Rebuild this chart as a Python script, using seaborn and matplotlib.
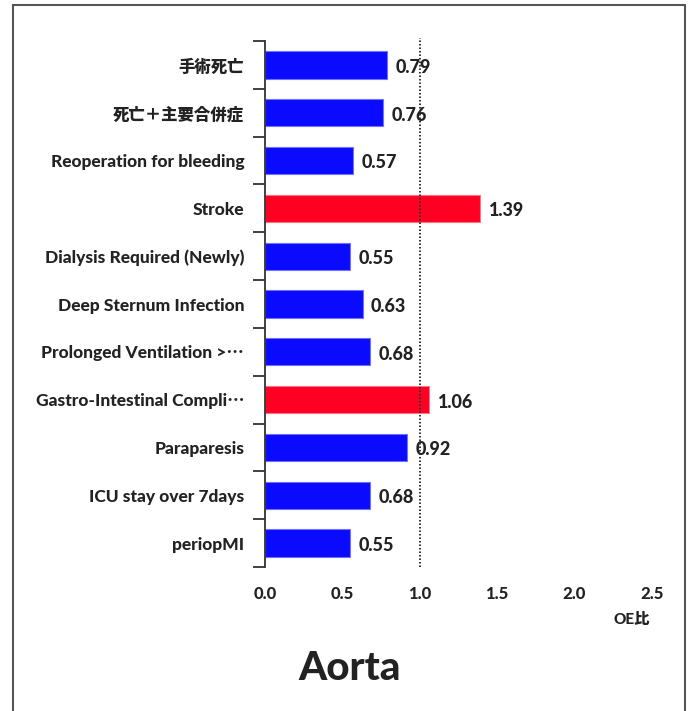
import matplotlib
matplotlib.use("Agg")
import matplotlib.pyplot as plt
import matplotlib.patches as mpatches
import seaborn as sns
import pandas as pd

categories = [
    "手術死亡",
    "死亡＋主要合併症",
    "Reoperation for bleeding",
    "Stroke",
    "Dialysis Required (Newly)",
    "Deep Sternum Infection",
    "Prolonged Ventilation >⋯",
    "Gastro-Intestinal Compli⋯",
    "Paraparesis",
    "ICU stay over 7days",
    "periopMI",
]
oe_ratio = [0.79, 0.76, 0.57, 1.39, 0.55, 0.63, 0.68, 1.06, 0.92, 0.68, 0.55]
x_ticks = [0.0, 0.5, 1.0, 1.5, 2.0, 2.5]
x_label = "OE比"
title = "Aorta"

BLUE = "#0A0AFF"
RED = "#FF0022"
TEXT = "#222222"
FAMILY = ["Lato", "Noto Sans CJK JP", "DejaVu Sans"]

sns.set_theme(style="white")
plt.rcParams["font.family"] = FAMILY

df = pd.DataFrame({"category": categories, "oe": oe_ratio})
df["status"] = ["over" if v > 1.0 else "under" for v in oe_ratio]

fig = plt.figure(figsize=(6.92, 7.11), dpi=100)
ax = fig.add_axes([0.383, 0.2025, 0.559, 0.7398])

sns.barplot(
    data=df, y="category", x="oe", hue="status",
    palette={"over": RED, "under": BLUE}, saturation=1,
    orient="h", width=0.57, dodge=False, legend=False, ax=ax,
    linewidth=0.8,
)
# thin lighter outline round each bar
for bar in ax.patches:
    fc = bar.get_facecolor()
    bar.set_edgecolor("#ff7080" if fc[0] > 0.5 else "#7070ff")

ax.set_xlim(0, 2.5)
ax.set_ylim(len(categories) - 0.5, -0.5)

# value labels
for i, v in enumerate(oe_ratio):
    ax.text(v + 0.055, i + 0.05, f"{v:.2f}", va="center", ha="left",
            fontsize=13, fontweight="black", color=TEXT)

# reference line at OE = 1
ax.plot([1.0, 1.0], [len(categories) - 0.5, -0.56], linestyle=(0, (0.8, 1.0)),
        color="#333333", linewidth=1.4, clip_on=False, zorder=3)

# axes styling
for side in ["top", "right", "bottom"]:
    ax.spines[side].set_visible(False)
ax.spines["left"].set_color("#333333")
ax.spines["left"].set_linewidth(1.3)

ax.set_yticks(range(len(categories)))
ax.set_yticklabels(categories, fontsize=12.5, fontweight="black", color=TEXT)
# the Japanese glyphs run a little large, so set them slightly smaller
for lbl in ax.get_yticklabels():
    if any(ord(ch) > 0x3000 for ch in lbl.get_text().replace("⋯", "")):
        lbl.set_fontsize(11.8)
ax.set_yticks([i - 0.5 for i in range(len(categories) + 1)], minor=True)
ax.tick_params(axis="y", which="major", length=0, pad=15)
ax.tick_params(axis="y", which="minor", length=9, width=1.3, color="#333333",
               direction="out", left=True)

ax.set_xticks(x_ticks)
ax.set_xticklabels([f"{t:.1f}" for t in x_ticks], fontsize=12,
                   fontweight="black", color=TEXT)
ax.tick_params(axis="x", length=0, pad=14)
ax.set_xlabel("")
ax.set_ylabel("")
ax.grid(False)

fig.text(632 / 692, 1 - 620 / 711, x_label, ha="center", va="center",
         fontsize=11, fontweight="black", color=TEXT)
fig.text(350 / 692, 1 - 668 / 711, title, ha="center", va="center",
         fontsize=29, fontweight="black", color=TEXT)

# frame round the figure
frame = mpatches.Rectangle((13 / 692, -0.01), (685 - 13) / 692, 1 - 5 / 711 + 0.01,
                           transform=fig.transFigure, fill=False,
                           edgecolor="#555555", linewidth=1.5, clip_on=False)
fig.patches.append(frame)

fig.savefig("out.png", dpi=100)
